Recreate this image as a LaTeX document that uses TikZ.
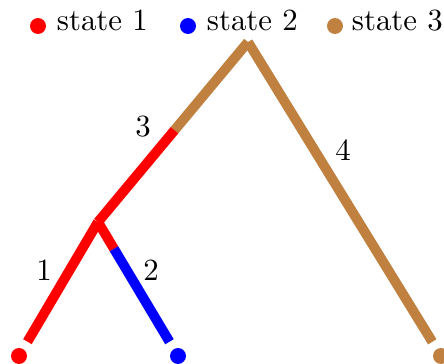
\documentclass[tikz,border=0pt]{standalone}
\usetikzlibrary{calc}
\begin{document}
\begin{tikzpicture}[x=0.0114cm, y=0.0114cm, line width=3.2pt]
  \tikzset{
    dot/.style={circle, fill, inner sep=0pt, minimum size=0.182cm},
    keytext/.style={anchor=base west, inner sep=0pt},
    branch/.style={shorten >=1.2pt},
  }
  \useasboundingbox (0,0) rectangle (444,364);

  % ---- legend ----
  \node[dot, red] (key1) at (38,338) {};
  \node[keytext] (lab1) at (52,334) {state 1};
  \node[dot, blue] (key2) at (188,338) {};
  \node[keytext] (lab2) at (202,334) {state 2};
  \node[dot, brown] (key3) at (335,338) {};
  \node[keytext] (lab3) at (347,334) {state 3};

  % ---- tree: root, inner node, leaves ----
  \coordinate (root) at (248,322);
  \coordinate (inner) at (98,142);
  \node[dot, red] (leafA) at (19,8) {};
  \node[dot, blue] (leafB) at (178,8) {};
  \node[dot, brown] (leafC) at (441,8) {};

  % ---- change points on branches 3 and 2 ----
  \coordinate (chg3) at ($(root)!0.49!(inner)$);
  \coordinate (chg2) at ($(inner)!0.2!(leafB)$);

  % ---- branches ----
  \draw[brown] (root) -- (chg3);
  \draw[red] (chg3) -- (inner);
  \draw[brown, branch] (root) -- (leafC);
  \draw[red, branch] (inner) -- (leafA);
  \draw[red] (inner) -- (chg2);
  \draw[blue, branch] (chg2) -- (leafB);

  % ---- branch labels ----
  \node (b1) at (44,94) {1};
  \node (b2) at (151,94) {2};
  \node (b3) at (143,237) {3};
  \node (b4) at (343,214) {4};

\end{tikzpicture}
\end{document}
